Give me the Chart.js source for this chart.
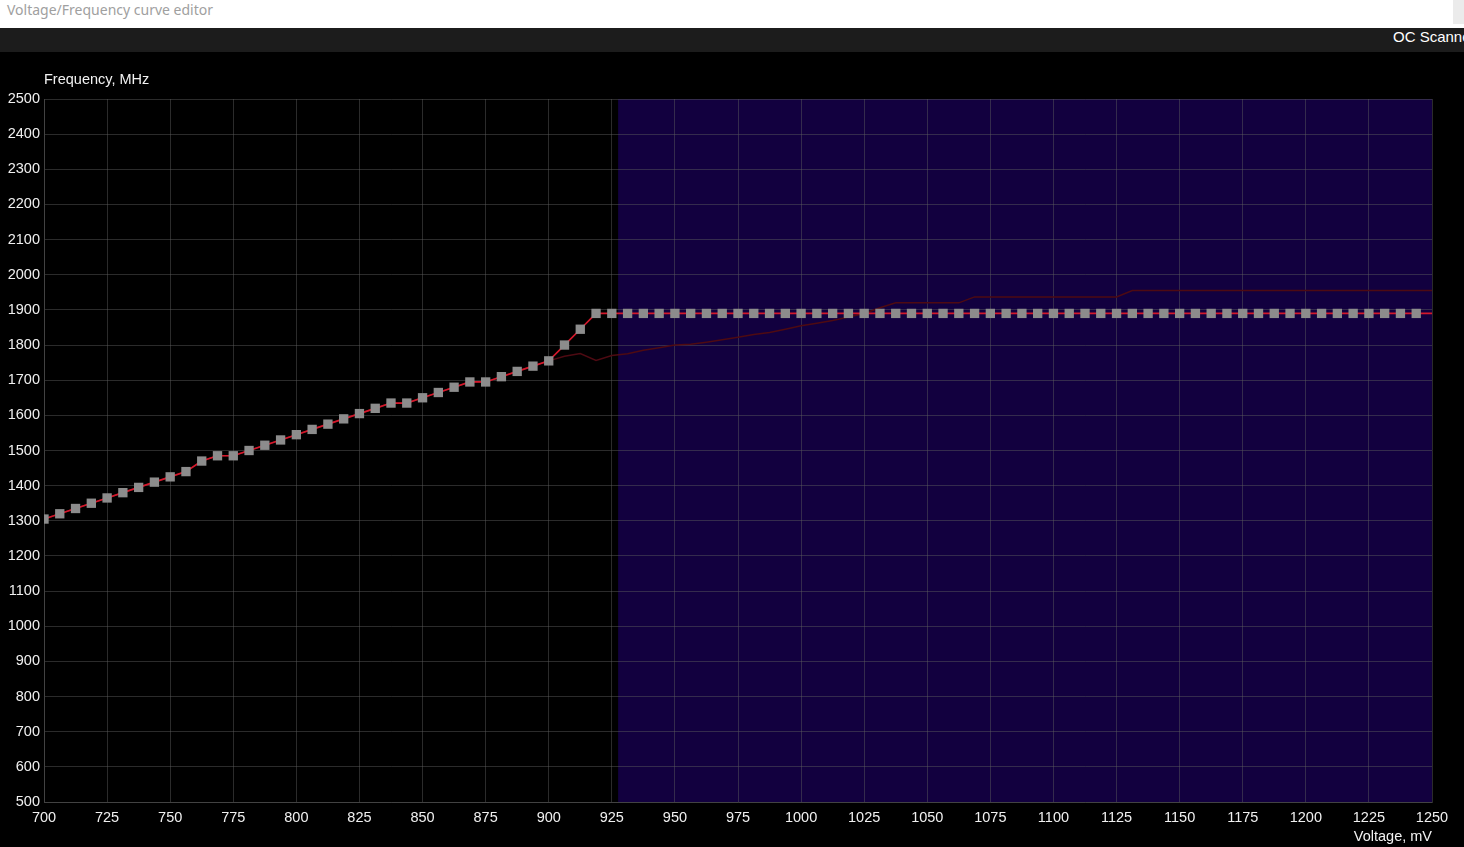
<!DOCTYPE html>
<html>
<head>
<meta charset="utf-8">
<script src="https://cdn.jsdelivr.net/npm/chart.js@4/dist/chart.umd.min.js"></script>
<style>
  html, body { margin:0; padding:0; }
  body { width:1464px; height:847px; overflow:hidden; position:relative; background:#000; font-family:"Liberation Sans", Arial, sans-serif; }
  #titlebar { position:absolute; left:0; top:0; width:1464px; height:28px; background:#fff; }
  #titletext { position:absolute; left:7px; top:0; height:20px; line-height:20px; font:14px "Noto Sans", sans-serif; color:#a0a0a0; white-space:nowrap; }
  #btn { position:absolute; left:1453px; top:0; width:11px; height:24px; background:#ebebeb; }
  #toolbar { position:absolute; left:0; top:28px; width:1464px; height:24px; background:#1c1c1c; }
  #octext { position:absolute; left:1393px; top:28px; height:24px; line-height:24px; font:15px "Liberation Sans", Arial, sans-serif; color:#fff; white-space:nowrap; }
  #wrap { position:absolute; left:0; top:52px; width:1464px; height:795px; }
  #ytitle { position:absolute; left:44px; top:70px; font:14.5px "Liberation Sans", Arial, sans-serif; color:#f2f2f2; white-space:nowrap; line-height:18px; }
  #xtitle { position:absolute; right:32px; top:827px; font:14.5px "Liberation Sans", Arial, sans-serif; color:#f2f2f2; white-space:nowrap; line-height:18px; }
</style>
</head>
<body>
<div id="titlebar"></div>
<div id="titletext">Voltage/Frequency curve editor</div>
<div id="btn"></div>
<div id="toolbar"></div>
<div id="octext">OC Scanner</div>
<div id="wrap"><canvas id="c" width="1464" height="795"></canvas></div>
<div id="ytitle">Frequency, MHz</div>
<div id="xtitle">Voltage, mV</div>
<script>
// Voltage points (mV), 6.25 mV steps from 700 to 1250
const voltages = [
  700, 706.25, 712.5, 718.75, 725, 731.25, 737.5, 743.75, 750, 756.25, 762.5, 768.75,
  775, 781.25, 787.5, 793.75, 800, 806.25, 812.5, 818.75, 825, 831.25, 837.5, 843.75,
  850, 856.25, 862.5, 868.75, 875, 881.25, 887.5, 893.75, 900, 906.25, 912.5, 918.75,
  925, 931.25, 937.5, 943.75, 950, 956.25, 962.5, 968.75, 975, 981.25, 987.5, 993.75,
  1000, 1006.25, 1012.5, 1018.75, 1025, 1031.25, 1037.5, 1043.75, 1050, 1056.25, 1062.5, 1068.75,
  1075, 1081.25, 1087.5, 1093.75, 1100, 1106.25, 1112.5, 1118.75, 1125, 1131.25, 1137.5, 1143.75,
  1150, 1156.25, 1162.5, 1168.75, 1175, 1181.25, 1187.5, 1193.75, 1200, 1206.25, 1212.5, 1218.75,
  1225, 1231.25, 1237.5, 1243.75, 1250
];
// Edited curve (MHz)
const editedFreq = [
  1305, 1320, 1335, 1350, 1365, 1380, 1395, 1410, 1425, 1440, 1470, 1485,
  1485, 1500, 1515, 1530, 1545, 1560, 1575, 1590, 1605, 1620, 1635, 1635,
  1650, 1665, 1680, 1695, 1695, 1710, 1725, 1740, 1755, 1800, 1845, 1890,
  1890, 1890, 1890, 1890, 1890, 1890, 1890, 1890, 1890, 1890, 1890, 1890,
  1890, 1890, 1890, 1890, 1890, 1890, 1890, 1890, 1890, 1890, 1890, 1890,
  1890, 1890, 1890, 1890, 1890, 1890, 1890, 1890, 1890, 1890, 1890, 1890,
  1890, 1890, 1890, 1890, 1890, 1890, 1890, 1890, 1890, 1890, 1890, 1890,
  1890, 1890, 1890, 1890, 1890
];
// Default curve (MHz), dark line
const defaultFreq = [
  1305, 1320, 1335, 1350, 1365, 1380, 1395, 1410, 1425, 1440, 1470, 1485,
  1485, 1500, 1515, 1530, 1545, 1560, 1575, 1590, 1605, 1620, 1635, 1635,
  1650, 1665, 1680, 1695, 1695, 1710, 1725, 1740, 1755, 1768, 1776, 1756,
  1770, 1775, 1785, 1792, 1800, 1802, 1808, 1815, 1822, 1830, 1836, 1845,
  1855, 1862, 1870, 1880, 1890, 1906, 1920, 1920, 1920, 1920, 1920, 1937,
  1937, 1937, 1937, 1937, 1937, 1937, 1937, 1937, 1937, 1955, 1955, 1955,
  1955, 1955, 1955, 1955, 1955, 1955, 1955, 1955, 1955, 1955, 1955, 1955,
  1955, 1955, 1955, 1955, 1955
];
const xTicksStep = 25;
const yTicksStep = 100;
const xRange = [700, 1250];
const yRange = [500, 2500];
const shadeStart = 927.5; // start of highlighted voltage range (mV)

const shadePlugin = {
  id: 'shade',
  beforeDraw(chart) {
    const {ctx, chartArea, scales} = chart;
    const x0 = scales.x.getPixelForValue(shadeStart);
    const x1 = scales.x.getPixelForValue(xRange[1]);
    ctx.save();
    ctx.fillStyle = '#12003f';
    ctx.fillRect(x0, chartArea.top, x1 - x0, chartArea.bottom - chartArea.top);
    ctx.restore();
  }
};

const lastIdx = voltages.length - 1;
const gridColor = 'rgba(95,95,95,0.45)';
const tickFont = { family: '"Liberation Sans", Arial, sans-serif', size: 14.5 };
const plain = v => String(v);

new Chart(document.getElementById('c'), {
  type: 'line',
  data: {
    datasets: [
      {
        label: 'Edited',
        data: voltages.map((v, i) => ({ x: v, y: editedFreq[i] })),
        borderColor: '#d4182b',
        borderWidth: 1.7,
        pointStyle: 'rect',
        pointRadius: ctx => ctx.dataIndex === lastIdx ? 0 : 6.6,
        pointHoverRadius: 0,
        pointBackgroundColor: '#8c8c8c',
        pointBorderWidth: 0,
        tension: 0,
        order: 0
      },
      {
        label: 'Default',
        data: voltages.map((v, i) => ({ x: v, y: defaultFreq[i] })),
        borderColor: '#4e0a12',
        borderWidth: 1.5,
        pointRadius: 0,
        tension: 0,
        order: 1
      }
    ]
  },
  options: {
    responsive: false,
    animation: false,
    events: [],
    layout: { padding: { left: 0, right: 32, top: 47, bottom: 0 } },
    plugins: { legend: { display: false }, tooltip: { enabled: false }, title: { display: false } },
    scales: {
      x: {
        type: 'linear',
        min: xRange[0], max: xRange[1],
        afterFit: s => { s.height = 45; },
        ticks: { stepSize: xTicksStep, color: '#f0f0f0', font: tickFont, padding: 7, maxRotation: 0, autoSkip: false, callback: plain },
        grid: { color: gridColor, drawTicks: false, lineWidth: 1 },
        border: { display: true, color: gridColor }
      },
      y: {
        type: 'linear',
        min: yRange[0], max: yRange[1],
        afterFit: s => { s.width = 44; },
        ticks: { stepSize: yTicksStep, color: '#f0f0f0', font: tickFont, padding: 4, autoSkip: false, callback: plain },
        grid: { color: gridColor, drawTicks: false, lineWidth: 1 },
        border: { display: true, color: gridColor }
      }
    }
  },
  plugins: [shadePlugin]
});
</script>
</body>
</html>
